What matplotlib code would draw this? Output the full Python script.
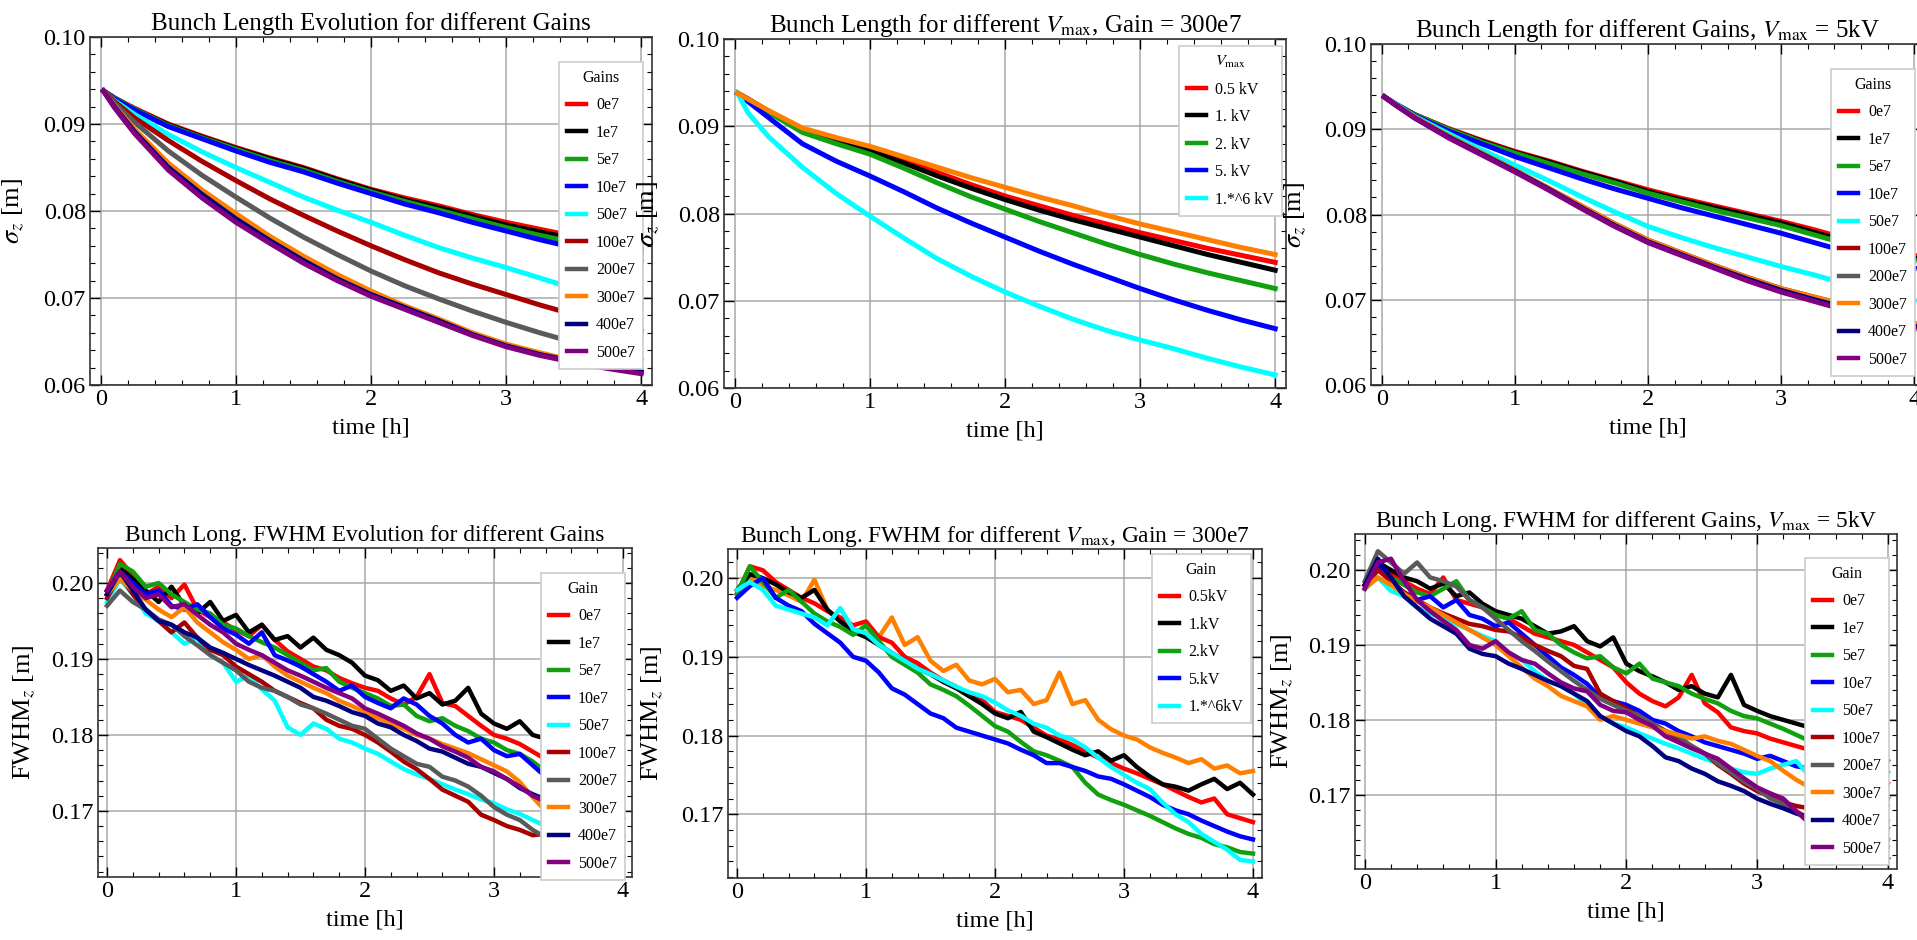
import matplotlib
matplotlib.use("Agg")
import matplotlib.pyplot as plt
from matplotlib.ticker import MultipleLocator, FormatStrFormatter

plt.rcParams["font.family"] = ["Liberation Serif", "DejaVu Serif"]
plt.rcParams["mathtext.fontset"] = "stix"

# ---------------- data ----------------
gain_labels = ["0e7", "1e7", "5e7", "10e7", "50e7", "100e7", "200e7", "300e7", "400e7", "500e7"]
gain_colors = ["#ff0000", "#000000", "#10a010", "#0000ff", "#00ffff",
               "#a80000", "#5a5a5a", "#ff8000", "#000080", "#800080"]
vmax_labels = ["0.5 kV", "1. kV", "2. kV", "5. kV", "1.*^6 kV"]
vmax_labels_b = ["0.5kV", "1.kV", "2.kV", "5.kV", "1.*^6kV"]
vmax_colors = ["#ff0000", "#000000", "#10a010", "#0000ff", "#00ffff"]

t_top = [0.02, 0.1, 0.25, 0.5, 0.75, 1.0, 1.25, 1.5, 1.75, 2.0, 2.25, 2.5, 2.75, 3.0, 3.25, 3.5, 3.75, 4.0]

# sigma_z, gains scan
sig_gain = [
    [0.0938, 0.0930, 0.0918, 0.0900, 0.0886, 0.0873, 0.0861, 0.0850, 0.0837, 0.0825, 0.0815, 0.0806, 0.0796, 0.0787, 0.0779, 0.0771, 0.0764, 0.0757],
    [0.0938, 0.0930, 0.0917, 0.0899, 0.0885, 0.0872, 0.0860, 0.0849, 0.0836, 0.0824, 0.0813, 0.0804, 0.0794, 0.0784, 0.0776, 0.0768, 0.0761, 0.0754],
    [0.0938, 0.0930, 0.0917, 0.0898, 0.0884, 0.0871, 0.0858, 0.0847, 0.0834, 0.0822, 0.0811, 0.0801, 0.0791, 0.0781, 0.0772, 0.0764, 0.0756, 0.0749],
    [0.0938, 0.0929, 0.0916, 0.0897, 0.0883, 0.0869, 0.0856, 0.0845, 0.0832, 0.0820, 0.0808, 0.0798, 0.0787, 0.0777, 0.0767, 0.0758, 0.0750, 0.0742],
    [0.0938, 0.0927, 0.0911, 0.0888, 0.0868, 0.0850, 0.0833, 0.0816, 0.0801, 0.0787, 0.0772, 0.0758, 0.0746, 0.0735, 0.0723, 0.0711, 0.0701, 0.0692],
    [0.0938, 0.0926, 0.0907, 0.0881, 0.0857, 0.0835, 0.0814, 0.0795, 0.0777, 0.0760, 0.0744, 0.0729, 0.0716, 0.0704, 0.0692, 0.0681, 0.0671, 0.0662],
    [0.0938, 0.0924, 0.0902, 0.0869, 0.0841, 0.0816, 0.0792, 0.0770, 0.0750, 0.0731, 0.0714, 0.0699, 0.0685, 0.0672, 0.0660, 0.0649, 0.0639, 0.0629],
    [0.0938, 0.0921, 0.0894, 0.0855, 0.0824, 0.0797, 0.0771, 0.0748, 0.0727, 0.0708, 0.0691, 0.0676, 0.0660, 0.0647, 0.0637, 0.0628, 0.0622, 0.0618],
    [0.0938, 0.0920, 0.0891, 0.0850, 0.0819, 0.0791, 0.0766, 0.0743, 0.0722, 0.0704, 0.0689, 0.0674, 0.0658, 0.0645, 0.0635, 0.0627, 0.0620, 0.0615],
    [0.0938, 0.0919, 0.0889, 0.0847, 0.0815, 0.0787, 0.0763, 0.0740, 0.0720, 0.0702, 0.0687, 0.0672, 0.0657, 0.0644, 0.0634, 0.0626, 0.0619, 0.0613],
]

# sigma_z, Vmax scan (gain 300e7); orange = curve without legend entry
sig_vmax = [
    [0.0938, 0.0931, 0.0917, 0.0896, 0.0885, 0.0874, 0.0861, 0.0847, 0.0833, 0.0820, 0.0809, 0.0798, 0.0788, 0.0778, 0.0769, 0.0760, 0.0752, 0.0744],
    [0.0938, 0.0931, 0.0917, 0.0895, 0.0884, 0.0872, 0.0858, 0.0843, 0.0829, 0.0816, 0.0804, 0.0793, 0.0783, 0.0773, 0.0763, 0.0753, 0.0744, 0.0735],
    [0.0938, 0.0930, 0.0916, 0.0893, 0.0880, 0.0868, 0.0852, 0.0835, 0.0819, 0.0805, 0.0791, 0.0778, 0.0765, 0.0753, 0.0742, 0.0732, 0.0723, 0.0714],
    [0.0938, 0.0928, 0.0910, 0.0880, 0.0860, 0.0843, 0.0825, 0.0806, 0.0789, 0.0773, 0.0757, 0.0742, 0.0728, 0.0714, 0.0701, 0.0689, 0.0678, 0.0668],
    [0.0938, 0.0915, 0.0888, 0.0853, 0.0823, 0.0797, 0.0772, 0.0748, 0.0728, 0.0710, 0.0694, 0.0679, 0.0666, 0.0655, 0.0645, 0.0634, 0.0624, 0.0615],
]
sig_vmax_ref = [0.0938, 0.0931, 0.0918, 0.0898, 0.0887, 0.0877, 0.0865, 0.0853, 0.0841, 0.0830, 0.0819, 0.0809, 0.0798, 0.0788, 0.0779, 0.0770, 0.0761, 0.0753]

# sigma_z, gains scan at Vmax = 5kV
sig_gain5 = [
    [0.0938, 0.0930, 0.0917, 0.0901, 0.0887, 0.0874, 0.0863, 0.0851, 0.0840, 0.0829, 0.0819, 0.0810, 0.0801, 0.0792, 0.0782, 0.0771, 0.0761, 0.0752],
    [0.0938, 0.0930, 0.0917, 0.0900, 0.0886, 0.0873, 0.0862, 0.0850, 0.0839, 0.0827, 0.0817, 0.0808, 0.0799, 0.0790, 0.0779, 0.0768, 0.0758, 0.0749],
    [0.0938, 0.0930, 0.0917, 0.0900, 0.0885, 0.0872, 0.0860, 0.0848, 0.0837, 0.0825, 0.0815, 0.0805, 0.0796, 0.0787, 0.0776, 0.0765, 0.0755, 0.0746],
    [0.0938, 0.0930, 0.0916, 0.0898, 0.0883, 0.0868, 0.0855, 0.0842, 0.0830, 0.0819, 0.0808, 0.0798, 0.0788, 0.0778, 0.0767, 0.0756, 0.0746, 0.0737],
    [0.0938, 0.0930, 0.0915, 0.0895, 0.0876, 0.0858, 0.0840, 0.0821, 0.0803, 0.0786, 0.0773, 0.0761, 0.0750, 0.0739, 0.0729, 0.0718, 0.0708, 0.0699],
    [0.0938, 0.0929, 0.0914, 0.0892, 0.0872, 0.0852, 0.0831, 0.0810, 0.0789, 0.0770, 0.0755, 0.0740, 0.0726, 0.0713, 0.0703, 0.0693, 0.0682, 0.0672],
    [0.0938, 0.0929, 0.0914, 0.0891, 0.0871, 0.0851, 0.0830, 0.0809, 0.0788, 0.0769, 0.0754, 0.0739, 0.0725, 0.0712, 0.0702, 0.0692, 0.0681, 0.0671],
    [0.0938, 0.0929, 0.0914, 0.0892, 0.0872, 0.0852, 0.0831, 0.0810, 0.0789, 0.0770, 0.0755, 0.0740, 0.0726, 0.0713, 0.0703, 0.0693, 0.0682, 0.0672],
    [0.0938, 0.0929, 0.0913, 0.0891, 0.0871, 0.0851, 0.0830, 0.0808, 0.0787, 0.0768, 0.0753, 0.0738, 0.0724, 0.0711, 0.0700, 0.0690, 0.0679, 0.0669],
    [0.0938, 0.0929, 0.0913, 0.0890, 0.0870, 0.0850, 0.0829, 0.0807, 0.0786, 0.0767, 0.0752, 0.0737, 0.0722, 0.0709, 0.0698, 0.0687, 0.0676, 0.0666],
]

t_bot = [0.0, 0.1, 0.2, 0.3, 0.4, 0.5, 0.6, 0.7, 0.8, 0.9, 1.0, 1.1, 1.2, 1.3, 1.4, 1.5, 1.6, 1.7, 1.8, 1.9, 2.0,
         2.1, 2.2, 2.3, 2.4, 2.5, 2.6, 2.7, 2.8, 2.9, 3.0, 3.1, 3.2, 3.3, 3.4, 3.5, 3.6, 3.7, 3.8, 3.9, 4.0]

# FWHM, gains scan
fwhm_gain = [
    [0.1990, 0.2030, 0.2010, 0.1985, 0.1995, 0.1980, 0.1998, 0.1965, 0.1955, 0.1948, 0.1938, 0.1930, 0.1945, 0.1925, 0.1910, 0.1900, 0.1890, 0.1885, 0.1875, 0.1868, 0.1862,
     0.1858, 0.1848, 0.1840, 0.1850, 0.1880, 0.1842, 0.1838, 0.1825, 0.1812, 0.1800, 0.1795, 0.1788, 0.1778, 0.1768, 0.1760, 0.1745, 0.1728, 0.1715, 0.1702, 0.1690],
    [0.1985, 0.2020, 0.2005, 0.1990, 0.1975, 0.1995, 0.1970, 0.1960, 0.1975, 0.1950, 0.1958, 0.1935, 0.1945, 0.1925, 0.1930, 0.1915, 0.1928, 0.1912, 0.1905, 0.1895, 0.1878,
     0.1872, 0.1858, 0.1865, 0.1848, 0.1855, 0.1840, 0.1845, 0.1862, 0.1828, 0.1815, 0.1808, 0.1818, 0.1800, 0.1795, 0.1788, 0.1780, 0.1772, 0.1765, 0.1760, 0.1755],
    [0.1985, 0.2025, 0.2015, 0.1995, 0.2000, 0.1985, 0.1975, 0.1965, 0.1960, 0.1945, 0.1940, 0.1930, 0.1922, 0.1915, 0.1905, 0.1895, 0.1885, 0.1888, 0.1870, 0.1862, 0.1855,
     0.1848, 0.1838, 0.1840, 0.1825, 0.1818, 0.1822, 0.1812, 0.1805, 0.1795, 0.1790, 0.1780, 0.1775, 0.1765, 0.1752, 0.1745, 0.1735, 0.1725, 0.1718, 0.1708, 0.1700],
    [0.1990, 0.2015, 0.2000, 0.1985, 0.1990, 0.1970, 0.1965, 0.1972, 0.1955, 0.1940, 0.1932, 0.1920, 0.1935, 0.1905, 0.1898, 0.1890, 0.1880, 0.1870, 0.1858, 0.1865, 0.1850,
     0.1842, 0.1835, 0.1848, 0.1840, 0.1825, 0.1815, 0.1800, 0.1790, 0.1795, 0.1780, 0.1772, 0.1775, 0.1760, 0.1745, 0.1735, 0.1725, 0.1718, 0.1708, 0.1700, 0.1690],
    [0.1975, 0.2005, 0.1985, 0.1960, 0.1950, 0.1935, 0.1920, 0.1928, 0.1905, 0.1895, 0.1870, 0.1878, 0.1860, 0.1845, 0.1810, 0.1800, 0.1815, 0.1808, 0.1795, 0.1790, 0.1782,
     0.1775, 0.1765, 0.1755, 0.1748, 0.1742, 0.1735, 0.1728, 0.1722, 0.1715, 0.1710, 0.1702, 0.1696, 0.1688, 0.1680, 0.1675, 0.1672, 0.1668, 0.1664, 0.1660, 0.1658],
    [0.1980, 0.2010, 0.1985, 0.1965, 0.1950, 0.1935, 0.1948, 0.1928, 0.1912, 0.1905, 0.1890, 0.1880, 0.1870, 0.1858, 0.1850, 0.1842, 0.1835, 0.1820, 0.1812, 0.1808, 0.1800,
     0.1790, 0.1778, 0.1765, 0.1755, 0.1742, 0.1728, 0.1720, 0.1712, 0.1695, 0.1688, 0.1680, 0.1675, 0.1668, 0.1670, 0.1660, 0.1655, 0.1650, 0.1640, 0.1635, 0.1640],
    [0.1970, 0.1990, 0.1975, 0.1965, 0.1952, 0.1945, 0.1930, 0.1918, 0.1905, 0.1895, 0.1885, 0.1870, 0.1862, 0.1858, 0.1850, 0.1840, 0.1835, 0.1828, 0.1820, 0.1812, 0.1808,
     0.1795, 0.1782, 0.1772, 0.1762, 0.1758, 0.1745, 0.1740, 0.1732, 0.1720, 0.1705, 0.1695, 0.1688, 0.1675, 0.1665, 0.1660, 0.1652, 0.1645, 0.1625, 0.1630, 0.1640],
    [0.1985, 0.2005, 0.1990, 0.1978, 0.1965, 0.1955, 0.1968, 0.1948, 0.1935, 0.1922, 0.1912, 0.1900, 0.1905, 0.1890, 0.1878, 0.1870, 0.1862, 0.1855, 0.1845, 0.1838, 0.1830,
     0.1822, 0.1815, 0.1808, 0.1800, 0.1795, 0.1788, 0.1782, 0.1776, 0.1768, 0.1760, 0.1752, 0.1738, 0.1718, 0.1700, 0.1685, 0.1672, 0.1660, 0.1645, 0.1630, 0.1640],
    [0.1985, 0.2015, 0.1990, 0.1965, 0.1950, 0.1945, 0.1935, 0.1928, 0.1915, 0.1908, 0.1900, 0.1892, 0.1885, 0.1878, 0.1870, 0.1862, 0.1850, 0.1845, 0.1838, 0.1830, 0.1825,
     0.1815, 0.1810, 0.1800, 0.1792, 0.1782, 0.1778, 0.1770, 0.1762, 0.1758, 0.1750, 0.1742, 0.1730, 0.1722, 0.1715, 0.1705, 0.1695, 0.1688, 0.1680, 0.1672, 0.1665],
    [0.1990, 0.2015, 0.1995, 0.1980, 0.1985, 0.1968, 0.1972, 0.1958, 0.1945, 0.1935, 0.1920, 0.1912, 0.1905, 0.1895, 0.1885, 0.1878, 0.1870, 0.1862, 0.1855, 0.1848, 0.1835,
     0.1828, 0.1820, 0.1812, 0.1802, 0.1795, 0.1785, 0.1778, 0.1770, 0.1758, 0.1752, 0.1742, 0.1732, 0.1720, 0.1712, 0.1705, 0.1698, 0.1690, 0.1682, 0.1675, 0.1668],
]

# FWHM, Vmax scan
fwhm_vmax = [
    [0.1980, 0.2015, 0.2010, 0.1995, 0.1985, 0.1975, 0.1968, 0.1958, 0.1950, 0.1940, 0.1945, 0.1925, 0.1918, 0.1900, 0.1892, 0.1880, 0.1870, 0.1862, 0.1850, 0.1845, 0.1830,
     0.1825, 0.1820, 0.1810, 0.1800, 0.1795, 0.1788, 0.1780, 0.1772, 0.1765, 0.1758, 0.1752, 0.1745, 0.1738, 0.1730, 0.1722, 0.1715, 0.1720, 0.1700, 0.1695, 0.1690],
    [0.1985, 0.2005, 0.2000, 0.1992, 0.1982, 0.1975, 0.1985, 0.1960, 0.1945, 0.1932, 0.1925, 0.1915, 0.1905, 0.1895, 0.1885, 0.1878, 0.1868, 0.1860, 0.1850, 0.1840, 0.1828,
     0.1822, 0.1830, 0.1805, 0.1798, 0.1790, 0.1782, 0.1775, 0.1780, 0.1768, 0.1775, 0.1760, 0.1748, 0.1738, 0.1735, 0.1730, 0.1738, 0.1745, 0.1732, 0.1740, 0.1725],
    [0.1980, 0.2015, 0.1995, 0.1975, 0.1985, 0.1970, 0.1955, 0.1945, 0.1938, 0.1928, 0.1940, 0.1920, 0.1900, 0.1890, 0.1880, 0.1865, 0.1858, 0.1850, 0.1838, 0.1825, 0.1812,
     0.1805, 0.1792, 0.1780, 0.1775, 0.1768, 0.1760, 0.1740, 0.1725, 0.1718, 0.1712, 0.1705, 0.1698, 0.1690, 0.1682, 0.1675, 0.1670, 0.1662, 0.1658, 0.1652, 0.1650],
    [0.1975, 0.1990, 0.2000, 0.1975, 0.1965, 0.1958, 0.1942, 0.1930, 0.1918, 0.1900, 0.1895, 0.1880, 0.1860, 0.1852, 0.1840, 0.1828, 0.1822, 0.1810, 0.1805, 0.1800, 0.1795,
     0.1790, 0.1782, 0.1775, 0.1765, 0.1765, 0.1760, 0.1755, 0.1748, 0.1745, 0.1738, 0.1730, 0.1722, 0.1712, 0.1705, 0.1700, 0.1692, 0.1685, 0.1678, 0.1672, 0.1668],
    [0.1985, 0.1995, 0.1985, 0.1965, 0.1960, 0.1955, 0.1950, 0.1940, 0.1962, 0.1935, 0.1930, 0.1915, 0.1905, 0.1895, 0.1885, 0.1878, 0.1870, 0.1862, 0.1855, 0.1850, 0.1842,
     0.1832, 0.1825, 0.1815, 0.1810, 0.1800, 0.1795, 0.1785, 0.1772, 0.1760, 0.1750, 0.1740, 0.1732, 0.1715, 0.1700, 0.1690, 0.1675, 0.1665, 0.1655, 0.1642, 0.1640],
]
fwhm_vmax_ref = [0.1980, 0.2000, 0.1990, 0.1985, 0.1978, 0.1970, 0.1998, 0.1960, 0.1945, 0.1935, 0.1930, 0.1925, 0.1950, 0.1915, 0.1925, 0.1895, 0.1882, 0.1890, 0.1870, 0.1865, 0.1872,
                 0.1855, 0.1858, 0.1840, 0.1845, 0.1880, 0.1840, 0.1845, 0.1820, 0.1808, 0.1800, 0.1795, 0.1785, 0.1778, 0.1772, 0.1765, 0.1770, 0.1758, 0.1762, 0.1752, 0.1755]

# FWHM, gains scan at Vmax = 5kV
fwhm_gain5 = [
    [0.1975, 0.2005, 0.1995, 0.1985, 0.1975, 0.1968, 0.1990, 0.1960, 0.1955, 0.1950, 0.1940, 0.1935, 0.1925, 0.1915, 0.1910, 0.1905, 0.1900, 0.1890, 0.1880, 0.1870, 0.1850,
     0.1835, 0.1825, 0.1818, 0.1830, 0.1860, 0.1822, 0.1810, 0.1790, 0.1785, 0.1782, 0.1775, 0.1770, 0.1765, 0.1760, 0.1752, 0.1745, 0.1738, 0.1730, 0.1722, 0.1715],
    [0.1980, 0.2010, 0.2000, 0.1990, 0.1985, 0.1975, 0.1982, 0.1965, 0.1970, 0.1955, 0.1945, 0.1940, 0.1935, 0.1925, 0.1915, 0.1918, 0.1925, 0.1905, 0.1898, 0.1910, 0.1875,
     0.1865, 0.1858, 0.1850, 0.1840, 0.1845, 0.1835, 0.1830, 0.1860, 0.1820, 0.1812, 0.1805, 0.1800, 0.1795, 0.1790, 0.1780, 0.1772, 0.1765, 0.1758, 0.1752, 0.1745],
    [0.1975, 0.2000, 0.1990, 0.1980, 0.1970, 0.1965, 0.1975, 0.1985, 0.1960, 0.1950, 0.1940, 0.1935, 0.1945, 0.1920, 0.1915, 0.1900, 0.1890, 0.1882, 0.1885, 0.1870, 0.1862,
     0.1875, 0.1855, 0.1850, 0.1845, 0.1835, 0.1828, 0.1822, 0.1812, 0.1805, 0.1802, 0.1795, 0.1788, 0.1780, 0.1772, 0.1765, 0.1758, 0.1750, 0.1745, 0.1738, 0.1730],
    [0.1980, 0.2005, 0.1985, 0.1970, 0.1960, 0.1965, 0.1950, 0.1960, 0.1940, 0.1935, 0.1925, 0.1930, 0.1915, 0.1900, 0.1885, 0.1870, 0.1860, 0.1848, 0.1830, 0.1825, 0.1820,
     0.1812, 0.1800, 0.1795, 0.1785, 0.1778, 0.1770, 0.1765, 0.1760, 0.1755, 0.1748, 0.1752, 0.1745, 0.1738, 0.1735, 0.1740, 0.1725, 0.1718, 0.1710, 0.1702, 0.1695],
    [0.1975, 0.1990, 0.1972, 0.1965, 0.1950, 0.1942, 0.1935, 0.1928, 0.1920, 0.1912, 0.1905, 0.1890, 0.1880, 0.1865, 0.1852, 0.1845, 0.1835, 0.1820, 0.1805, 0.1795, 0.1790,
     0.1782, 0.1775, 0.1768, 0.1762, 0.1755, 0.1748, 0.1742, 0.1735, 0.1730, 0.1728, 0.1735, 0.1740, 0.1745, 0.1725, 0.1720, 0.1712, 0.1705, 0.1698, 0.1690, 0.1685],
    [0.1980, 0.2000, 0.1985, 0.1970, 0.1960, 0.1950, 0.1942, 0.1935, 0.1928, 0.1925, 0.1920, 0.1918, 0.1910, 0.1900, 0.1892, 0.1885, 0.1872, 0.1868, 0.1835, 0.1825, 0.1815,
     0.1805, 0.1795, 0.1785, 0.1775, 0.1765, 0.1755, 0.1740, 0.1728, 0.1715, 0.1705, 0.1698, 0.1690, 0.1685, 0.1682, 0.1680, 0.1675, 0.1670, 0.1665, 0.1660, 0.1655],
    [0.1985, 0.2025, 0.2010, 0.1995, 0.2010, 0.1990, 0.1985, 0.1978, 0.1960, 0.1950, 0.1935, 0.1920, 0.1905, 0.1892, 0.1878, 0.1865, 0.1852, 0.1840, 0.1828, 0.1820, 0.1812,
     0.1805, 0.1795, 0.1785, 0.1778, 0.1765, 0.1755, 0.1742, 0.1730, 0.1718, 0.1708, 0.1695, 0.1688, 0.1678, 0.1668, 0.1662, 0.1655, 0.1645, 0.1640, 0.1632, 0.1630],
    [0.1975, 0.1990, 0.1980, 0.1968, 0.1958, 0.1950, 0.1940, 0.1930, 0.1920, 0.1910, 0.1900, 0.1885, 0.1870, 0.1855, 0.1845, 0.1832, 0.1825, 0.1818, 0.1800, 0.1805, 0.1800,
     0.1795, 0.1790, 0.1785, 0.1780, 0.1775, 0.1778, 0.1772, 0.1768, 0.1760, 0.1752, 0.1745, 0.1732, 0.1720, 0.1710, 0.1700, 0.1695, 0.1688, 0.1680, 0.1672, 0.1665],
    [0.1980, 0.2015, 0.1990, 0.1965, 0.1950, 0.1935, 0.1925, 0.1915, 0.1895, 0.1888, 0.1885, 0.1875, 0.1868, 0.1860, 0.1852, 0.1845, 0.1835, 0.1825, 0.1805, 0.1795, 0.1785,
     0.1778, 0.1765, 0.1750, 0.1745, 0.1735, 0.1728, 0.1718, 0.1712, 0.1705, 0.1695, 0.1688, 0.1682, 0.1675, 0.1670, 0.1665, 0.1660, 0.1650, 0.1640, 0.1628, 0.1615],
    [0.1975, 0.2010, 0.2015, 0.1985, 0.1960, 0.1945, 0.1932, 0.1920, 0.1900, 0.1895, 0.1905, 0.1890, 0.1880, 0.1875, 0.1862, 0.1850, 0.1842, 0.1838, 0.1820, 0.1812, 0.1810,
     0.1800, 0.1792, 0.1778, 0.1770, 0.1762, 0.1755, 0.1748, 0.1735, 0.1722, 0.1710, 0.1702, 0.1695, 0.1678, 0.1662, 0.1675, 0.1668, 0.1660, 0.1652, 0.1645, 0.1640],
]

W, H = 1917, 940


def frac(left, top, right, bottom):
    # pixel box -> figure fraction
    return [left / W, 1 - bottom / H, (right - left) / W, (bottom - top) / H]


def style(ax, xlim, ylim):
    ax.set_xlim(*xlim)
    ax.set_ylim(*ylim)
    ax.xaxis.set_major_locator(MultipleLocator(1))
    ax.xaxis.set_minor_locator(MultipleLocator(0.2))
    ax.yaxis.set_major_locator(MultipleLocator(0.01))
    ax.yaxis.set_minor_locator(MultipleLocator(0.002))
    ax.yaxis.set_major_formatter(FormatStrFormatter("%.2f"))
    ax.tick_params(which="both", direction="in", top=True, right=True,
                   labelsize=17.5, pad=3)
    ax.tick_params(which="major", length=7, width=1)
    ax.tick_params(which="minor", length=3.5, width=0.8)
    ax.grid(True, which="major", color="#a8a8a8", lw=1.1)
    ax.set_axisbelow(True)
    for s in ax.spines.values():
        s.set_linewidth(1.2)
        s.set_color("#333333")
    ax.set_xlabel("time [h]", fontsize=17.5, labelpad=5)


def add_legend(ax, handles, labels, title, right, top):
    leg = ax.legend(handles, labels, title=title, loc="upper right",
                    bbox_to_anchor=(right / W, 1 - top / H), bbox_transform=fig.transFigure,
                    borderaxespad=0, fontsize=11.5, title_fontsize=11.5,
                    frameon=True, fancybox=False, framealpha=1, edgecolor="#cccccc",
                    handlelength=1.2, handletextpad=0.6, labelspacing=0.72, borderpad=0.5)
    leg.get_frame().set_linewidth(1.2)
    for h in leg.legend_handles:
        h.set_linewidth(3.2)
    return leg


fig = plt.figure(figsize=(W / 100, H / 100), dpi=100)

# ---------------- top row: sigma_z ----------------
ax1 = fig.add_axes(frac(90, 37, 652, 385))
lines = []
for vals, c in zip(sig_gain, gain_colors):
    ln, = ax1.plot(t_top, vals, color=c, lw=3.6, solid_joinstyle="round")
    lines.append(ln)
style(ax1, (-0.08, 4.08), (0.06, 0.10))
ax1.set_title("Bunch Length Evolution for different Gains", fontsize=18, pad=5)
ax1.set_ylabel(r"$\sigma_z$ [m]", fontsize=19)
ax1.yaxis.set_label_coords(-0.113, 0.5)
add_legend(ax1, lines, gain_labels, "Gains", 643, 62)

ax2 = fig.add_axes(frac(724, 39, 1286, 388))
lines = []
for vals, c in zip(sig_vmax, vmax_colors):
    ln, = ax2.plot(t_top, vals, color=c, lw=3.6, solid_joinstyle="round")
    lines.append(ln)
ax2.plot(t_top, sig_vmax_ref, color="#ff8000", lw=3.6, solid_joinstyle="round")
style(ax2, (-0.08, 4.08), (0.06, 0.10))
ax2.set_title(r"Bunch Length for different $V_{\rm max}$, Gain = 300e7", fontsize=18, pad=5)
ax2.set_ylabel(r"$\sigma_z$ [m]", fontsize=19)
ax2.yaxis.set_label_coords(-0.112, 0.5)
add_legend(ax2, lines, vmax_labels, r"$V_{\rm max}$", 1282, 46)

ax3 = fig.add_axes(frac(1371, 44, 1925, 385))
lines = []
for vals, c in zip(sig_gain5, gain_colors):
    ln, = ax3.plot(t_top, vals, color=c, lw=3.6, solid_joinstyle="round")
    lines.append(ln)
style(ax3, (-0.08, 4.08), (0.06, 0.10))
ax3.set_title(r"Bunch Length for different Gains, $V_{\rm max}$ = 5kV", fontsize=18, pad=5)
ax3.set_ylabel(r"$\sigma_z$ [m]", fontsize=19)
ax3.yaxis.set_label_coords(-0.113, 0.5)
add_legend(ax3, lines, gain_labels, "Gains", 1915, 69)

# ---------------- bottom row: FWHM ----------------
ax4 = fig.add_axes(frac(98, 548, 632, 877))
lines = []
for vals, c in zip(fwhm_gain, gain_colors):
    ln, = ax4.plot(t_bot, vals, color=c, lw=3.2, solid_joinstyle="round")
    lines.append(ln)
style(ax4, (-0.07, 4.07), (0.1613, 0.2046))
ax4.set_title("Bunch Long. FWHM Evolution for different Gains", fontsize=16.8, pad=5)
ax4.set_ylabel(r"FWHM$_z$ [m]", fontsize=19)
ax4.yaxis.set_label_coords(-0.115, 0.5)
add_legend(ax4, lines, gain_labels, "Gain", 625, 573)

ax5 = fig.add_axes(frac(728, 549, 1262, 878))
ax5.plot(t_bot, fwhm_vmax_ref, color="#ff8000", lw=3.2, solid_joinstyle="round")
lines = []
for vals, c in zip(fwhm_vmax, vmax_colors):
    ln, = ax5.plot(t_bot, vals, color=c, lw=3.2, solid_joinstyle="round")
    lines.append(ln)
style(ax5, (-0.07, 4.07), (0.1619, 0.2037))
ax5.set_title(r"Bunch Long. FWHM for different $V_{\rm max}$, Gain = 300e7", fontsize=16.8, pad=5)
ax5.set_ylabel(r"FWHM$_z$ [m]", fontsize=19)
ax5.yaxis.set_label_coords(-0.118, 0.5)
add_legend(ax5, lines, vmax_labels_b, "Gain", 1251, 554)

ax6 = fig.add_axes(frac(1355, 534, 1897, 869))
lines = []
for vals, c in zip(fwhm_gain5, gain_colors):
    ln, = ax6.plot(t_bot, vals, color=c, lw=3.2, solid_joinstyle="round")
    lines.append(ln)
style(ax6, (-0.075, 4.07), (0.1601, 0.2048))
ax6.set_title(r"Bunch Long. FWHM for different Gains, $V_{\rm max}$ = 5kV", fontsize=16.8, pad=5)
ax6.set_ylabel(r"FWHM$_z$ [m]", fontsize=19)
ax6.yaxis.set_label_coords(-0.11, 0.5)
add_legend(ax6, lines, gain_labels, "Gain", 1889, 558)

fig.savefig("out.png", dpi=100)
